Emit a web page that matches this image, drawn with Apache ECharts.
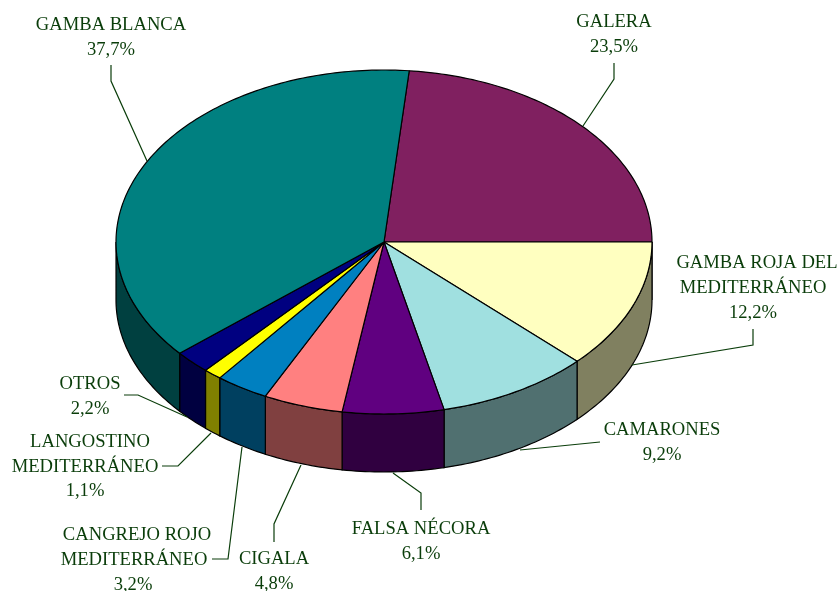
<!DOCTYPE html>
<html>
<head>
<meta charset="utf-8">
<style>html,body{margin:0;padding:0;background:#fff}#c{width:840px;height:591px}</style>
<script src="https://cdn.jsdelivr.net/npm/echarts@6/dist/echarts.min.js"></script>
</head>
<body>
<div id="c"></div>
<script>
const categories = ["GALERA","GAMBA ROJA DEL\nMEDITERRÁNEO","CAMARONES","FALSA NÉCORA","CIGALA","CANGREJO ROJO\nMEDITERRÁNEO","LANGOSTINO\nMEDITERRÁNEO","OTROS","GAMBA BLANCA"];
const values = [23.5,12.2,9.2,6.1,4.8,3.2,1.1,2.2,37.7];
const valueLabels = ["23,5%","12,2%","9,2%","6,1%","4,8%","3,2%","1,1%","2,2%","37,7%"];
const topColors = ["#802060","#FFFFC0","#A0E0E0","#600080","#FF8080","#0080C0","#FFFF00","#000080","#008080"];
const sideColors = ["#401030","#808060","#507070","#300040","#804040","#004060","#808000","#000040","#004040"];

const cx = 384, cy = 242, rx = 268, ry = 172, depth = 58;
const startAngle = 5.4;
const labelLines = [
  [[614,22],[614,47]],
  [[757,263],[753,288],[753,313]],
  [[662,430],[662,455]],
  [[421,529],[421,554]],
  [[274,559],[274,584]],
  [[137,535],[134,560],[133,585]],
  [[90,442],[85,467],[85,491]],
  [[90,384],[90,409]],
  [[111,25],[111,50]]
];
const leaders = [
  [[614,63],[614,79],[583,126]],
  [[753,329],[753,345],[632,365]],
  [[600,442],[520,450]],
  [[421,510],[421,493],[393,473]],
  [[274,542],[274,524],[301,465]],
  [[212,559],[228,559],[242,447]],
  [[162,466],[178,466],[211,433]],
  [[124,395],[138,395],[187,417]],
  [[111,65],[111,81],[147,161]]
];

function pt(deg, dy) {
  const t = deg * Math.PI / 180;
  return [cx + rx * Math.sin(t), cy - ry * Math.cos(t) + (dy || 0)];
}
function arc(a, b, dy) {
  const out = [], n = Math.max(2, Math.ceil(Math.abs(b - a)));
  for (let i = 0; i <= n; i++) out.push(pt(a + (b - a) * i / n, dy));
  return out;
}
function renderSlice(params, api) {
  const i = params.dataIndex;
  const v = api.value(0);
  let before = 0;
  for (let k = 0; k < i; k++) before += values[k];
  const a = startAngle + before * 3.6, b = a + v * 3.6;
  const children = [];
  const sa = Math.max(a, 90), sb = Math.min(b, 270);
  if (sb > sa) {
    children.push({
      type: 'polygon',
      shape: { points: arc(sa, sb, 0).concat(arc(sb, sa, depth)) },
      style: { fill: sideColors[i], stroke: '#000', lineWidth: 1.2 }
    });
  }
  children.push({
    type: 'polygon',
    shape: { points: [[cx, cy]].concat(arc(a, b, 0)) },
    style: { fill: topColors[i], stroke: '#000', lineWidth: 1.2, lineJoin: 'round' }
  });
  children.push({
    type: 'polyline',
    shape: { points: leaders[i] },
    style: { fill: 'none', stroke: '#0a3d0a', lineWidth: 1.2 }
  });
  const lines = categories[i].split('\n').concat(valueLabels[i]);
  lines.forEach((t, j) => {
    children.push({
      type: 'text',
      x: labelLines[i][j][0], y: labelLines[i][j][1],
      style: {
        text: t, fill: '#0a3d0a', align: 'center', verticalAlign: 'middle',
        font: '18.6px "Liberation Serif"'
      }
    });
  });
  return { type: 'group', children };
}
const chart = echarts.init(document.getElementById('c'), null, { renderer: 'canvas' });
chart.setOption({
  backgroundColor: '#fff',
  animation: false,
  series: [{
    type: 'custom',
    coordinateSystem: 'none',
    renderItem: renderSlice,
    data: values.map((v, i) => ({ name: categories[i], value: [v] })),
    silent: true
  }]
});
</script>
</body>
</html>
